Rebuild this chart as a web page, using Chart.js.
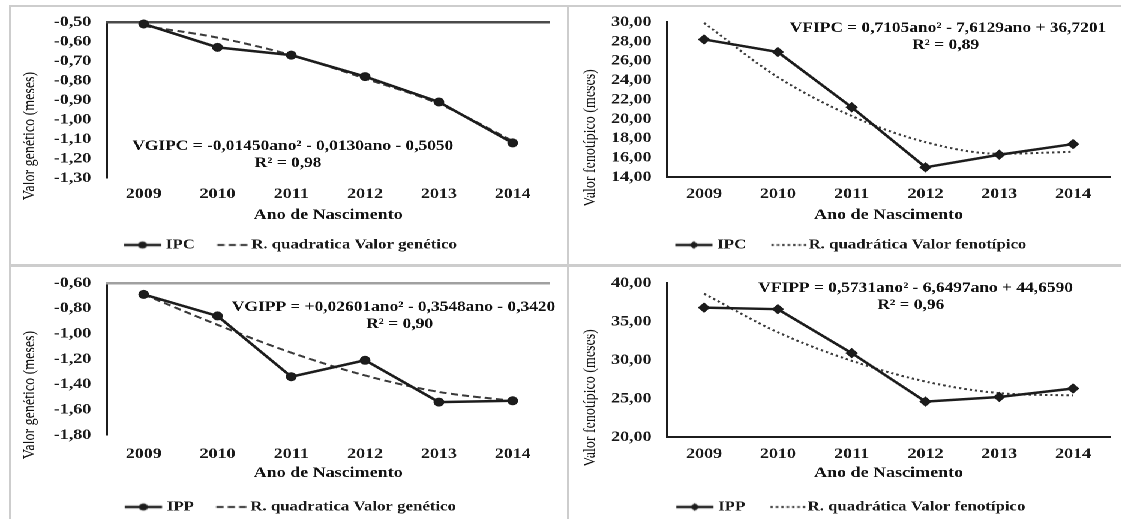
<!DOCTYPE html>
<html>
<head>
<meta charset="utf-8">
<script src="https://cdn.jsdelivr.net/npm/chart.js@4.4.1/dist/chart.umd.min.js"></script>
<style>
  html, body { margin: 0; padding: 0; background: #fff; overflow: hidden; }
  body { width: 1121px; height: 519px; position: relative; }
  /* a figura original foi esticada na horizontal: reproduzimos com scaleX */
  #wrap { position: absolute; left: 0; top: 0; width: 934.17px; height: 519px; transform: scaleX(1.2); transform-origin: 0 0; }
  #wrap canvas { position: absolute; }
  .linha { position: absolute; background: #cdcdcd; }
</style>
</head>
<body>
<div class="linha" style="left:9px;top:5px;width:2px;height:514px"></div>
<div class="linha" style="left:567px;top:5px;width:2px;height:514px"></div>
<div class="linha" style="left:9px;top:5px;width:1112px;height:2px"></div>
<div class="linha" style="left:9px;top:264px;width:1112px;height:3px"></div>
<div id="wrap">
  <canvas id="vgIpc" width="467" height="260" style="left:0;top:0"></canvas>
  <canvas id="vfIpc" width="467" height="260" style="left:467px;top:0"></canvas>
  <canvas id="vgIpp" width="467" height="259" style="left:0;top:260px"></canvas>
  <canvas id="vfIpp" width="467" height="259" style="left:467px;top:260px"></canvas>
</div>
<script>
// ─── Dados ──────────────────────────────────────────────────────────────────
const anos = ['2009', '2010', '2011', '2012', '2013', '2014'];
const vgIPC     = [-0.51, -0.63, -0.67, -0.78, -0.91, -1.12];
const vgIPCQuad = [-0.52, -0.58, -0.67, -0.79, -0.92, -1.11];
const vfIPC     = [28.2, 26.9, 21.2, 15.0, 16.3, 17.4];
const vfIPCQuad = [29.9, 24.3, 20.3, 17.6, 16.4, 16.6];
const vgIPP     = [-0.69, -0.86, -1.34, -1.21, -1.54, -1.53];
const vgIPPQuad = [-0.69, -0.93, -1.15, -1.33, -1.46, -1.53];
const vfIPP     = [36.8, 36.6, 30.9, 24.6, 25.2, 26.3];
const vfIPPQuad = [38.6, 33.6, 29.9, 27.2, 25.7, 25.4];

const SERIF = "'Liberation Serif', 'Times New Roman', serif";
const PRETO = '#1c1c1c';

// texto livre (equações e título do eixo y)
const notas = {
  id: 'notas',
  afterDraw(chart, args, opts) {
    const ctx = chart.ctx;
    (opts.itens || []).forEach(it => {
      ctx.save();
      ctx.font = it.font;
      ctx.fillStyle = '#111';
      ctx.textAlign = 'center';
      ctx.textBaseline = 'middle';
      ctx.translate(it.x, it.y);
      if (it.rot) ctx.rotate(it.rot);
      ctx.fillText(it.text, 0, 0);
      ctx.restore();
    });
  }
};

// símbolos da legenda
function glifoSerie(marcador) {
  const g = document.createElement('canvas');
  g.width = 44; g.height = 12;
  const x = g.getContext('2d');
  x.strokeStyle = PRETO; x.fillStyle = PRETO; x.lineWidth = 2.5;
  x.beginPath(); x.moveTo(9, 6); x.lineTo(40, 6); x.stroke();
  x.beginPath();
  if (marcador === 'circle') x.arc(24.5, 6, 3.6, 0, Math.PI * 2);
  else { x.moveTo(24.5, 2); x.lineTo(28.5, 6); x.lineTo(24.5, 10); x.lineTo(20.5, 6); x.closePath(); }
  x.fill();
  return g;
}
function glifoTendencia(traco, x0, x1) {
  const g = document.createElement('canvas');
  g.width = 44; g.height = 12;
  const x = g.getContext('2d');
  x.strokeStyle = '#333'; x.lineWidth = 2;
  x.setLineDash(traco);
  x.beginPath(); x.moveTo(x0, 6); x.lineTo(x1, 6); x.stroke();
  return g;
}

function painel(id, o) {
  const canvas = document.getElementById(id);
  const H = canvas.height;
  const legFont = 14;
  const legH = legFont + o.legPad + 10;
  const padB = H - o.legY - 10 - legFont / 2;
  const xH = H - padB - legH - o.bottom;
  const padL = 24, yW = 65;

  const scales = {
    x: {
      type: 'category', position: 'bottom', offset: true,
      grid: { display: false, drawTicks: false },
      border: { display: !o.topAxis, color: PRETO, width: 2 },
      ticks: { padding: o.tickY - o.bottom - 9, color: '#1a1a1a', font: { family: SERIF, size: 15, weight: 'bold' } },
      title: { display: true, text: 'Ano de Nascimento', color: '#111',
        font: { family: SERIF, size: 15, weight: 'bold' },
        padding: { top: 0, bottom: o.bottom + xH - 9 - o.titleY } },
      afterFit: s => { s.height = xH; }
    },
    y: {
      min: o.min, max: o.max,
      grid: { display: false, drawTicks: false },
      border: { color: PRETO, width: 2 },
      ticks: { stepSize: o.step, autoSkip: false, padding: 13, color: '#1a1a1a',
        font: { family: SERIF, size: 15, weight: 'bold' },
        callback: v => v.toFixed(2).replace('.', ',') },
      afterFit: s => { s.width = yW; }
    }
  };
  if (o.topAxis) {
    scales.xTop = {
      type: 'category', position: 'top', offset: true, labels: anos,
      ticks: { display: false },
      grid: { display: false, drawTicks: false },
      border: { display: true, color: o.topAxis, width: 2.5 },
      afterFit: s => { s.height = 0; }
    };
  }

  const glifos = [glifoSerie(o.marcador), glifoTendencia(o.traco, o.tx0, o.tx1)];

  return new Chart(canvas, {
    type: 'line',
    data: {
      labels: anos,
      datasets: [
        { label: o.serie, data: o.valores, borderColor: PRETO, borderWidth: 2.5,
          pointStyle: o.marcador, pointRadius: o.marcador === 'circle' ? 4 : 4.5,
          pointBackgroundColor: PRETO, pointBorderColor: PRETO, pointBorderWidth: 1,
          tension: 0, clip: false },
        { label: o.tendencia, data: o.quad, borderColor: '#3a3a3a', borderWidth: 2,
          borderDash: o.traco, pointRadius: 0, cubicInterpolationMode: 'monotone', clip: false }
      ]
    },
    options: {
      responsive: false, animation: false, devicePixelRatio: 2,
      layout: { padding: { left: padL, right: 467 - o.right, top: o.top, bottom: padB } },
      scales,
      plugins: {
        tooltip: { enabled: false },
        legend: {
          position: 'bottom', align: 'center',
          labels: {
            usePointStyle: true, pointStyleWidth: 30, padding: o.legPad, color: '#1a1a1a',
            font: { family: SERIF, size: legFont, weight: 'bold' },
            generateLabels: chart => Chart.defaults.plugins.legend.labels.generateLabels(chart)
              .map((it, i) => Object.assign(it, { pointStyle: glifos[i] }))
          }
        },
        notas: {
          itens: [
            { text: o.eixoY, x: 25, y: o.yTitleY, rot: -Math.PI / 2, font: '14px ' + SERIF },
            { text: o.eq, x: o.eqX, y: o.eqY, font: 'bold 14.5px ' + SERIF },
            { text: o.r2, x: o.r2X, y: o.eqY + 17, font: 'bold 14.5px ' + SERIF }
          ]
        }
      }
    },
    plugins: [notas]
  });
}

const traco = [6, 3.5];
const pontos = [2, 2.5];

painel('vgIpc', {
  valores: vgIPC, quad: vgIPCQuad, serie: 'IPC', tendencia: 'R. quadratica Valor genético',
  marcador: 'circle', traco, tx0: 15.7, tx1: 40.7, legPad: 10,
  min: -1.3, max: -0.5, step: 0.1, topAxis: '#4a4a4a',
  top: 22, bottom: 178, right: 458, tickY: 194, titleY: 215, legY: 245,
  eixoY: 'Valor genético (meses)', yTitleY: 136,
  eq: 'VGIPC = -0,01450ano² - 0,0130ano - 0,5050', eqX: 244, eqY: 146,
  r2: 'R² = 0,98', r2X: 240
});

painel('vfIpc', {
  valores: vfIPC, quad: vfIPCQuad, serie: 'IPC', tendencia: 'R. quadrática Valor fenotípico',
  marcador: 'rectRot', traco: pontos, tx0: 13, tx1: 44, legPad: 15,
  min: 14, max: 30, step: 2, topAxis: null,
  top: 22, bottom: 177, right: 458, tickY: 194, titleY: 215, legY: 245,
  eixoY: 'Valor fenotípico (meses)', yTitleY: 138,
  eq: 'VFIPC = 0,7105ano² - 7,6129ano + 36,7201', eqX: 323, eqY: 28,
  r2: 'R² = 0,89', r2X: 321
});

painel('vgIpp', {
  valores: vgIPP, quad: vgIPPQuad, serie: 'IPP', tendencia: 'R. quadratica Valor genético',
  marcador: 'circle', traco, tx0: 15.7, tx1: 40.7, legPad: 10,
  min: -1.8, max: -0.6, step: 0.2, topAxis: '#a0a0a0',
  top: 23, bottom: 175, right: 458, tickY: 194, titleY: 213, legY: 247,
  eixoY: 'Valor genético (meses)', yTitleY: 135,
  eq: 'VGIPP = +0,02601ano² - 0,3548ano - 0,3420', eqX: 328, eqY: 47,
  r2: 'R² = 0,90', r2X: 333
});

painel('vfIpp', {
  valores: vfIPP, quad: vfIPPQuad, serie: 'IPP', tendencia: 'R. quadrática Valor fenotípico',
  marcador: 'rectRot', traco: pontos, tx0: 13, tx1: 44, legPad: 15,
  min: 20, max: 40, step: 5, topAxis: null,
  top: 23, bottom: 177, right: 458, tickY: 194, titleY: 213, legY: 247,
  eixoY: 'Valor fenotípico (meses)', yTitleY: 138,
  eq: 'VFIPP = 0,5731ano² - 6,6497ano + 44,6590', eqX: 296, eqY: 28,
  r2: 'R² = 0,96', r2X: 292
});
</script>
</body>
</html>
